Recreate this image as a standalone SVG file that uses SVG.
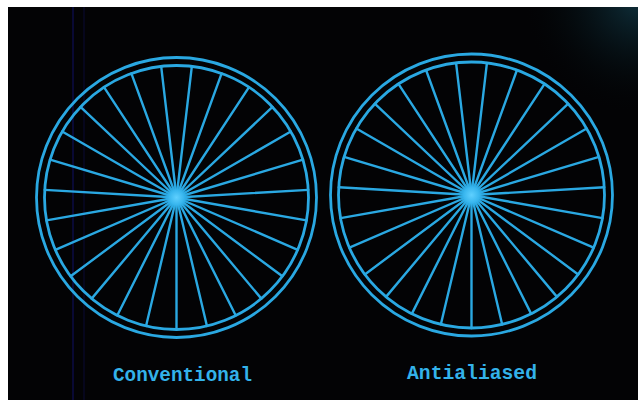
<svg xmlns="http://www.w3.org/2000/svg" xmlns:xlink="http://www.w3.org/1999/xlink" width="638" height="400" viewBox="0 0 638 400">
  <style>
    .rim { fill: none; stroke: #2aa8e2; stroke-width: 2.8; }
    .spoke { stroke: #2aa8e2; stroke-width: 2.4; stroke-linecap: round; }
    .label { font-family: "Liberation Mono", "DejaVu Sans Mono", monospace; font-weight: bold; font-size: 21px; fill: #33b2ea; }
  </style>
  <defs>
    <radialGradient id="glowTR" cx="638" cy="0" r="120" gradientUnits="userSpaceOnUse">
      <stop offset="0" stop-color="#123a48" stop-opacity="0.8"/>
      <stop offset="1" stop-color="#000000" stop-opacity="0"/>
    </radialGradient>
    <radialGradient id="hub">
      <stop offset="0" stop-color="#5fd0ff"/>
      <stop offset="0.6" stop-color="#38b6ee"/>
      <stop offset="1" stop-color="#2aa6de" stop-opacity="0"/>
    </radialGradient>
    <line id="spL" class="spoke" x1="0" y1="0" x2="0" y2="132"/>
    <line id="spR" class="spoke" x1="0" y1="0" x2="0" y2="133"/>
  </defs>

  <!-- background -->
  <rect x="0" y="0" width="638" height="400" fill="#ffffff"/>
  <rect x="8" y="7" width="630" height="393" fill="#030305"/>
  <rect x="8" y="7" width="630" height="393" fill="url(#glowTR)"/>
  <line x1="73" y1="7" x2="73" y2="400" stroke="#15157a" stroke-width="1" stroke-opacity="0.8"/>
  <line x1="84" y1="7" x2="84" y2="400" stroke="#0b0b35" stroke-width="1"/>

  <g id="wheel-conventional" transform="translate(176.5,197.5)">
    <circle class="rim" r="140"/>
    <circle class="rim" r="132"/>
    <g>
      <use xlink:href="#spL" transform="rotate(0)"/>
      <use xlink:href="#spL" transform="rotate(13.333)"/>
      <use xlink:href="#spL" transform="rotate(26.667)"/>
      <use xlink:href="#spL" transform="rotate(40)"/>
      <use xlink:href="#spL" transform="rotate(53.333)"/>
      <use xlink:href="#spL" transform="rotate(66.667)"/>
      <use xlink:href="#spL" transform="rotate(80)"/>
      <use xlink:href="#spL" transform="rotate(93.333)"/>
      <use xlink:href="#spL" transform="rotate(106.667)"/>
      <use xlink:href="#spL" transform="rotate(120)"/>
      <use xlink:href="#spL" transform="rotate(133.333)"/>
      <use xlink:href="#spL" transform="rotate(146.667)"/>
      <use xlink:href="#spL" transform="rotate(160)"/>
      <use xlink:href="#spL" transform="rotate(173.333)"/>
      <use xlink:href="#spL" transform="rotate(186.667)"/>
      <use xlink:href="#spL" transform="rotate(200)"/>
      <use xlink:href="#spL" transform="rotate(213.333)"/>
      <use xlink:href="#spL" transform="rotate(226.667)"/>
      <use xlink:href="#spL" transform="rotate(240)"/>
      <use xlink:href="#spL" transform="rotate(253.333)"/>
      <use xlink:href="#spL" transform="rotate(266.667)"/>
      <use xlink:href="#spL" transform="rotate(280)"/>
      <use xlink:href="#spL" transform="rotate(293.333)"/>
      <use xlink:href="#spL" transform="rotate(306.667)"/>
      <use xlink:href="#spL" transform="rotate(320)"/>
      <use xlink:href="#spL" transform="rotate(333.333)"/>
      <use xlink:href="#spL" transform="rotate(346.667)"/>
    </g>
    <circle r="12" fill="url(#hub)"/>
  </g>

  <g id="wheel-antialiased" transform="translate(471.5,195)">
    <circle class="rim" r="141"/>
    <circle class="rim" r="133"/>
    <g>
      <use xlink:href="#spR" transform="rotate(0)"/>
      <use xlink:href="#spR" transform="rotate(13.333)"/>
      <use xlink:href="#spR" transform="rotate(26.667)"/>
      <use xlink:href="#spR" transform="rotate(40)"/>
      <use xlink:href="#spR" transform="rotate(53.333)"/>
      <use xlink:href="#spR" transform="rotate(66.667)"/>
      <use xlink:href="#spR" transform="rotate(80)"/>
      <use xlink:href="#spR" transform="rotate(93.333)"/>
      <use xlink:href="#spR" transform="rotate(106.667)"/>
      <use xlink:href="#spR" transform="rotate(120)"/>
      <use xlink:href="#spR" transform="rotate(133.333)"/>
      <use xlink:href="#spR" transform="rotate(146.667)"/>
      <use xlink:href="#spR" transform="rotate(160)"/>
      <use xlink:href="#spR" transform="rotate(173.333)"/>
      <use xlink:href="#spR" transform="rotate(186.667)"/>
      <use xlink:href="#spR" transform="rotate(200)"/>
      <use xlink:href="#spR" transform="rotate(213.333)"/>
      <use xlink:href="#spR" transform="rotate(226.667)"/>
      <use xlink:href="#spR" transform="rotate(240)"/>
      <use xlink:href="#spR" transform="rotate(253.333)"/>
      <use xlink:href="#spR" transform="rotate(266.667)"/>
      <use xlink:href="#spR" transform="rotate(280)"/>
      <use xlink:href="#spR" transform="rotate(293.333)"/>
      <use xlink:href="#spR" transform="rotate(306.667)"/>
      <use xlink:href="#spR" transform="rotate(320)"/>
      <use xlink:href="#spR" transform="rotate(333.333)"/>
      <use xlink:href="#spR" transform="rotate(346.667)"/>
    </g>
    <circle r="13" fill="url(#hub)"/>
  </g>

  <g id="labels">
    <text class="label" x="113" y="381" textLength="139" lengthAdjust="spacingAndGlyphs">Conventional</text>
    <text class="label" x="407" y="379" textLength="130" lengthAdjust="spacingAndGlyphs">Antialiased</text>
  </g>
</svg>
